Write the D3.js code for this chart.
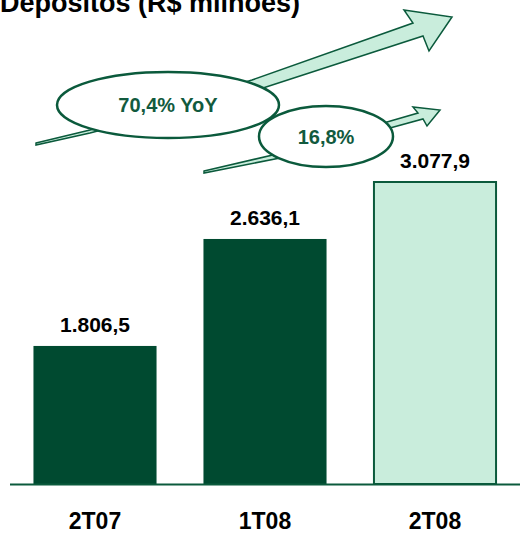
<!DOCTYPE html>
<html><head><meta charset="utf-8">
<script src="https://cdn.jsdelivr.net/npm/d3@7"></script>
<style>html,body{margin:0;padding:0;background:#fff;overflow:hidden}</style>
</head><body>
<svg id="c" width="520" height="533"></svg>
<script>
const title = "Depósitos (R$ milhões)";
const categories = ["2T07", "1T08", "2T08"];
const values = [1806.5, 2636.1, 3077.9];
const valueLabels = ["1.806,5", "2.636,1", "3.077,9"];
const growthLabels = ["70,4% YoY", "16,8%"];

const DARK = "#004a30", LIGHT = "#c9eddc", STROKE = "#0b5a3c", TXT = "#125a3e";
const svg = d3.select("#c");
const font = "Arial, 'Liberation Sans', sans-serif";

const x = d3.scaleBand().domain(categories).range([10, 520]).paddingInner(0.276).paddingOuter(0.138);
const y = d3.scaleLinear().domain([736, 3077.9]).range([484, 182]);

svg.append("text").attr("x", 0).attr("y", 12).attr("font-family", font).attr("font-weight", "bold")
  .attr("font-size", 27).attr("fill", "#000").text(title);

// bars
svg.selectAll("rect.bar").data(values).enter().append("rect")
  .attr("x", (d, i) => x(categories[i]) + (i === 2 ? 0.5 : 0))
  .attr("y", d => y(d))
  .attr("width", (d, i) => x.bandwidth() - (i === 2 ? 1 : 0))
  .attr("height", d => y.range()[0] - y(d))
  .attr("fill", (d, i) => i === 2 ? LIGHT : DARK)
  .attr("stroke", (d, i) => i === 2 ? STROKE : "none")
  .attr("stroke-width", 2);

// axis baseline
svg.append("line").attr("x1", 10).attr("x2", 520).attr("y1", 484.5).attr("y2", 484.5)
  .attr("stroke", STROKE).attr("stroke-width", 2);

// value labels
svg.selectAll("text.val").data(values).enter().append("text")
  .attr("x", (d, i) => x(categories[i]) + x.bandwidth() / 2)
  .attr("y", d => y(d) - 14)
  .attr("text-anchor", "middle").attr("font-family", font).attr("font-weight", "bold")
  .attr("font-size", 21).attr("fill", "#000")
  .text((d, i) => valueLabels[i]);

// category labels
svg.selectAll("text.cat").data(categories).enter().append("text")
  .attr("x", d => x(d) + x.bandwidth() / 2)
  .attr("y", 529)
  .attr("text-anchor", "middle").attr("font-family", font).attr("font-weight", "bold")
  .attr("font-size", 23).attr("fill", "#000").text(d => d);

// growth arrows (annotation shapes)
const line = d3.line();
const bigArrow = [[36,143],[90,130],[252,80],[413,23],[404,10],[452,17],[429,51],[423,36],[263,88],[90,133],[36,145]];
const smallArrow = [[204,171],[277,154],[387,122],[418,113],[413,107],[440,110],[427,126],[423,119],[390,128],[280,158],[204,173]];

svg.append("path").attr("d", line(bigArrow) + "Z").attr("fill", LIGHT).attr("stroke", STROKE)
  .attr("stroke-width", 1.5).attr("stroke-linejoin", "miter");
svg.append("ellipse").attr("cx", 168).attr("cy", 105).attr("rx", 111).attr("ry", 33)
  .attr("fill", "#fff").attr("stroke", STROKE).attr("stroke-width", 2.5);
svg.append("text").attr("x", 168).attr("y", 112).attr("text-anchor", "middle")
  .attr("font-family", font).attr("font-weight", "bold").attr("font-size", 20).attr("fill", TXT)
  .text(growthLabels[0]);

svg.append("path").attr("d", line(smallArrow) + "Z").attr("fill", LIGHT).attr("stroke", STROKE)
  .attr("stroke-width", 1.5).attr("stroke-linejoin", "miter");
svg.append("ellipse").attr("cx", 326).attr("cy", 136.5).attr("rx", 67).attr("ry", 30.5)
  .attr("fill", "#fff").attr("stroke", STROKE).attr("stroke-width", 2.5);
svg.append("text").attr("x", 326).attr("y", 144).attr("text-anchor", "middle")
  .attr("font-family", font).attr("font-weight", "bold").attr("font-size", 20).attr("fill", TXT)
  .text(growthLabels[1]);
</script>
</body></html>
